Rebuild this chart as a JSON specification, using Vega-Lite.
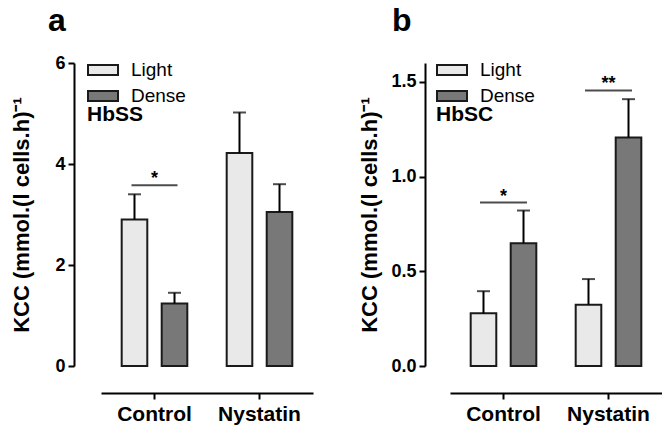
{
  "$schema": "https://vega.github.io/schema/vega-lite/v6.json",
  "padding": {"left": 10, "top": 5, "right": 0, "bottom": 5},
  "background": "white",
  "config": {
    "font": "Liberation Sans",
    "view": {"stroke": null},
    "axis": {"domainColor": "black", "domainWidth": 2, "tickColor": "black", "tickWidth": 2, "tickSize": 6, "grid": false, "labelColor": "black", "titleColor": "black", "labelFontWeight": "bold", "titleFontWeight": "bold"},
    "legend": {"padding": 0}
  },
  "spacing": 45,
  "resolve": {"scale": {"fill": "independent"}, "legend": {"fill": "independent"}},
  "hconcat": [
    {
      "width": 212,
      "height": 303,
      "title": {"text": "a", "fontSize": 32, "fontWeight": "bold", "anchor": "start", "frame": "group", "dx": -53, "offset": 16, "color": "black"},
      "data": {"values": [
        {"cat": "Control", "density": "Light", "value": 2.90, "err": 3.40},
        {"cat": "Control", "density": "Dense", "value": 1.24, "err": 1.45},
        {"cat": "Nystatin", "density": "Light", "value": 4.22, "err": 5.02},
        {"cat": "Nystatin", "density": "Dense", "value": 3.05, "err": 3.60}
      ]},
      "encoding": {
        "x": {"field": "cat", "type": "nominal", "title": null, "sort": ["Control", "Nystatin"],
          "scale": {"paddingInner": 0.375, "paddingOuter": 0.197},
          "axis": {"labelAngle": 0, "labelFontSize": 21, "labelPadding": 4, "offset": 27}}
      },
      "layer": [
        {
          "mark": {"type": "bar", "stroke": "#1a1a1a", "strokeWidth": 2},
          "encoding": {
            "xOffset": {"field": "density", "type": "nominal", "scale": {"domain": ["Light", "Dense"], "paddingInner": 0.36, "paddingOuter": 0}},
            "y": {"field": "value", "type": "quantitative", "scale": {"domain": [0, 6]},
              "axis": {"values": [0, 2, 4, 6], "labelFontSize": 18, "offset": 27, "labelPadding": 3, "title": "KCC (mmol.(l cells.h)⁻¹", "titleFontSize": 22, "titlePadding": 21}},
            "fill": {"field": "density", "type": "nominal", "scale": {"domain": ["Light", "Dense"], "range": ["#e9e9e9", "#787878"]},
              "legend": {"orient": "none", "legendX": -14, "legendY": -9, "title": "HbSS", "titleOrient": "bottom", "titleFontSize": 21, "titleFontWeight": "bold", "titleColor": "black", "titleAnchor": "start", "titlePadding": -2,
                "labelFontSize": 19, "labelColor": "black", "labelOffset": 12, "symbolType": "M-1,-0.333H1V0.333H-1Z", "symbolSize": 900, "symbolStrokeColor": "#1a1a1a", "symbolStrokeWidth": 2, "rowPadding": -6}}
          }
        },
        {
          "mark": {"type": "rule", "color": "black", "strokeWidth": 2},
          "encoding": {
            "xOffset": {"field": "density", "type": "nominal"},
            "y": {"field": "value", "type": "quantitative"},
            "y2": {"field": "err"}
          }
        },
        {
          "mark": {"type": "tick", "color": "black", "size": 13, "thickness": 2, "orient": "horizontal"},
          "encoding": {
            "xOffset": {"field": "density", "type": "nominal"},
            "y": {"field": "err", "type": "quantitative"}
          }
        },
        {
          "data": {"values": [{"cat": "Control", "sig": 3.58, "label": "*"}]},
          "layer": [
            {"mark": {"type": "tick", "color": "black", "size": 46, "thickness": 2, "orient": "horizontal"},
              "encoding": {"y": {"field": "sig", "type": "quantitative"}}},
            {"mark": {"type": "text", "fontSize": 18, "fontWeight": "bold", "baseline": "alphabetic", "dy": -1, "color": "black"},
              "encoding": {"y": {"field": "sig", "type": "quantitative"}, "text": {"field": "label"}}}
          ]
        }
      ]
    },
    {
      "width": 212,
      "height": 303,
      "title": {"text": "b", "fontSize": 32, "fontWeight": "bold", "anchor": "start", "frame": "group", "dx": -58, "offset": 16, "color": "black"},
      "data": {"values": [
        {"cat": "Control", "density": "Light", "value": 0.278, "err": 0.395},
        {"cat": "Control", "density": "Dense", "value": 0.648, "err": 0.821},
        {"cat": "Nystatin", "density": "Light", "value": 0.324, "err": 0.459},
        {"cat": "Nystatin", "density": "Dense", "value": 1.207, "err": 1.409}
      ]},
      "encoding": {
        "x": {"field": "cat", "type": "nominal", "title": null, "sort": ["Control", "Nystatin"],
          "scale": {"paddingInner": 0.375, "paddingOuter": 0.197},
          "axis": {"labelAngle": 0, "labelFontSize": 21, "labelPadding": 4, "offset": 27}}
      },
      "layer": [
        {
          "mark": {"type": "bar", "stroke": "#1a1a1a", "strokeWidth": 2},
          "encoding": {
            "xOffset": {"field": "density", "type": "nominal", "scale": {"domain": ["Light", "Dense"], "paddingInner": 0.36, "paddingOuter": 0}},
            "y": {"field": "value", "type": "quantitative", "scale": {"domain": [0, 1.5]},
              "axis": {"values": [0, 0.5, 1, 1.5], "format": ".1f", "labelFontSize": 18, "offset": 25, "labelPadding": 3, "title": "KCC (mmol.(l cells.h)⁻¹", "titleFontSize": 22, "titlePadding": 9}},
            "fill": {"field": "density", "type": "nominal", "scale": {"domain": ["Light", "Dense"], "range": ["#e9e9e9", "#787878"]},
              "legend": {"orient": "none", "legendX": -14, "legendY": -9, "title": "HbSC", "titleOrient": "bottom", "titleFontSize": 21, "titleFontWeight": "bold", "titleColor": "black", "titleAnchor": "start", "titlePadding": -2,
                "labelFontSize": 19, "labelColor": "black", "labelOffset": 12, "symbolType": "M-1,-0.333H1V0.333H-1Z", "symbolSize": 900, "symbolStrokeColor": "#1a1a1a", "symbolStrokeWidth": 2, "rowPadding": -6}}
          }
        },
        {
          "mark": {"type": "rule", "color": "black", "strokeWidth": 2},
          "encoding": {
            "xOffset": {"field": "density", "type": "nominal"},
            "y": {"field": "value", "type": "quantitative"},
            "y2": {"field": "err"}
          }
        },
        {
          "mark": {"type": "tick", "color": "black", "size": 13, "thickness": 2, "orient": "horizontal"},
          "encoding": {
            "xOffset": {"field": "density", "type": "nominal"},
            "y": {"field": "err", "type": "quantitative"}
          }
        },
        {
          "data": {"values": [{"cat": "Control", "sig": 0.863, "label": "*"}, {"cat": "Nystatin", "sig": 1.455, "label": "**"}]},
          "layer": [
            {"mark": {"type": "tick", "color": "black", "size": 47, "thickness": 2, "orient": "horizontal"},
              "encoding": {"y": {"field": "sig", "type": "quantitative"}}},
            {"mark": {"type": "text", "fontSize": 18, "fontWeight": "bold", "baseline": "alphabetic", "dy": -1, "color": "black"},
              "encoding": {"y": {"field": "sig", "type": "quantitative"}, "text": {"field": "label"}}}
          ]
        }
      ]
    }
  ]
}
